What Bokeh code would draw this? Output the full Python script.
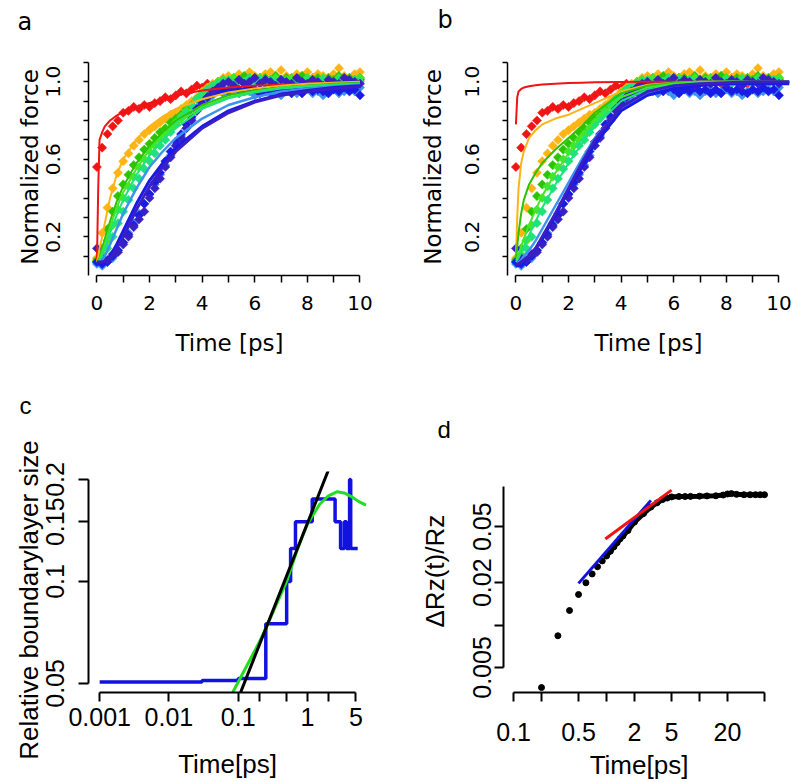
import numpy as np
from bokeh.plotting import figure
from bokeh.models import FixedTicker, Range1d, Title
from bokeh.layouts import row, column
from bokeh.embed import file_html
from bokeh.resources import INLINE

# ---------------- panels a & b: simulation points (shared) ----------------
t_pts = [0.0, 0.2, 0.4, 0.6, 0.8, 1.0, 1.2, 1.4, 1.6, 1.8,
         2.0, 2.2, 2.4, 2.6, 2.8, 3.0, 3.2, 3.4, 3.6, 3.8,
         4.0, 4.2, 4.4, 4.6, 4.8, 5.0, 5.2, 5.4, 5.6, 5.8,
         6.0, 6.2, 6.4, 6.6, 6.8, 7.0, 7.2, 7.4, 7.6, 7.8,
         8.0, 8.2, 8.4, 8.6, 8.8, 9.0, 9.2, 9.4, 9.6, 9.8,
         10.0]
red_pts = [0.56, 0.66, 0.73, 0.77, 0.80, 0.84, 0.85, 0.87, 0.86, 0.88,
           0.87, 0.89, 0.90, 0.92, 0.91, 0.93, 0.95, 0.94, 0.96, 0.98,
           0.97, 0.99, 0.98, 1.00, 0.99, 1.01, 1.00, 1.02, 0.99, 1.01,
           1.00, 1.02, 1.00, 1.01, 0.99, 1.01, 1.00, 1.02, 1.00, 0.99,
           1.01, 1.02, 1.00, 1.01, 0.99, 1.01, 1.00, 1.02, 1.01, 1.00,
           1.01]
orange_pts = [0.09, 0.22, 0.35, 0.45, 0.53, 0.59, 0.63, 0.67, 0.70, 0.73,
              0.75, 0.77, 0.79, 0.81, 0.83, 0.84, 0.86, 0.88, 0.90, 0.92,
              0.95, 0.97, 0.99, 1.00, 1.02, 1.03, 1.01, 1.04, 1.02, 1.05,
              1.03, 1.02, 1.04, 1.05, 1.03, 1.06, 1.03, 1.02, 1.04, 1.03,
              1.05, 1.02, 1.04, 1.03, 1.02, 1.04, 1.07, 1.03, 1.02, 1.04,
              1.05]
green_pts = [0.08, 0.14, 0.24, 0.33, 0.41, 0.47, 0.52, 0.57, 0.61, 0.65,
             0.68, 0.71, 0.74, 0.76, 0.79, 0.81, 0.83, 0.86, 0.88, 0.91,
             0.93, 0.96, 0.98, 0.99, 1.01, 1.00, 1.02, 1.01, 1.03, 1.01,
             1.02, 1.00, 1.02, 1.01, 1.03, 1.01, 1.02, 1.00, 1.01, 1.03,
             1.02, 1.01, 1.02, 1.00, 1.02, 1.01, 1.03, 1.01, 1.02, 1.01,
             1.02]
lime_pts = [0.07, 0.11, 0.18, 0.26, 0.34, 0.40, 0.46, 0.51, 0.56, 0.60,
            0.64, 0.67, 0.70, 0.73, 0.76, 0.79, 0.82, 0.85, 0.88, 0.91,
            0.94, 0.96, 0.98, 1.00, 1.01, 1.00, 1.02, 1.01, 1.00, 1.02,
            1.01, 1.02, 1.00, 1.01, 1.02, 1.00, 1.01, 1.02, 1.01, 1.00,
            1.02, 1.01, 1.00, 1.02, 1.01, 1.00, 1.02, 1.01, 1.00, 1.01,
            1.02]
spring_pts = [0.07, 0.09, 0.14, 0.20, 0.27, 0.33, 0.39, 0.45, 0.50, 0.55,
              0.59, 0.63, 0.67, 0.70, 0.74, 0.78, 0.81, 0.84, 0.88, 0.91,
              0.93, 0.96, 0.98, 0.99, 1.00, 1.01, 0.99, 1.01, 1.00, 1.02,
              1.00, 1.01, 0.99, 1.01, 1.00, 1.01, 1.00, 0.99, 1.01, 1.00,
              1.01, 0.99, 1.00, 1.01, 1.00, 0.99, 1.01, 1.00, 0.99, 1.01,
              1.00]
ltblue_pts = [0.06, 0.05, 0.07, 0.09, 0.13, 0.17, 0.22, 0.27, 0.32, 0.37,
              0.42, 0.47, 0.52, 0.57, 0.62, 0.67, 0.72, 0.76, 0.81, 0.85,
              0.88, 0.91, 0.93, 0.95, 0.94, 0.96, 0.95, 0.94, 0.96, 0.95,
              0.93, 0.95, 0.96, 0.94, 0.95, 0.93, 0.95, 0.96, 0.94, 0.95,
              0.96, 0.94, 0.95, 0.93, 0.95, 0.96, 0.94, 0.95, 0.96, 0.95,
              0.97]
blue_pts = [0.07, 0.06, 0.07, 0.10, 0.13, 0.17, 0.21, 0.26, 0.31, 0.37,
            0.42, 0.48, 0.53, 0.59, 0.64, 0.69, 0.73, 0.78, 0.82, 0.86,
            0.89, 0.92, 0.94, 0.95, 0.96, 0.95, 0.97, 0.96, 0.95, 0.97,
            0.96, 0.94, 0.96, 0.95, 0.97, 0.95, 0.96, 0.94, 0.96, 0.94,
            0.97, 0.95, 0.96, 0.95, 0.94, 0.96, 0.95, 0.97, 0.95, 0.96,
            0.93]
indigo_pts = [0.14, 0.09, 0.08, 0.11, 0.12, 0.16, 0.20, 0.25, 0.29, 0.33,
              0.40, 0.45, 0.50, 0.56, 0.61, 0.67, 0.71, 0.76, 0.80, 0.85,
              0.88, 0.92, 0.95, 0.97, 0.99, 1.00, 0.98, 1.01, 0.99, 1.00,
              1.02, 0.99, 1.01, 1.00, 0.98, 1.01, 1.00, 0.99, 1.02, 1.00,
              0.99, 1.01, 1.00, 0.98, 1.01, 1.00, 0.99, 1.02, 1.01, 1.00,
              0.99]

# ---------------- panel a: fitted curves ----------------
t_fit_a = [0, 0.05, 0.1, 0.2, 0.3, 0.5, 0.75, 1, 1.5, 2, 2.5, 3, 4, 5, 6, 7, 8, 9, 10]
red_fit_a = [0.07, 0.45, 0.70, 0.74, 0.77, 0.80, 0.825, 0.845, 0.87, 0.89, 0.91, 0.93, 0.955, 0.97, 0.98, 0.985, 0.99, 0.995, 1.0]
orange_fit_a = [0.07, 0.1, 0.14, 0.2, 0.27, 0.4, 0.52, 0.6, 0.7, 0.77, 0.82, 0.86, 0.91, 0.945, 0.965, 0.98, 0.99, 0.995, 1.0]
green_fit_a = [0.07, 0.08, 0.09, 0.14, 0.19, 0.28, 0.38, 0.46, 0.58, 0.67, 0.74, 0.8, 0.88, 0.93, 0.955, 0.97, 0.98, 0.99, 0.995]
lime_fit_a = [0.07, 0.075, 0.085, 0.12, 0.16, 0.25, 0.35, 0.43, 0.55, 0.65, 0.72, 0.78, 0.87, 0.92, 0.95, 0.97, 0.98, 0.985, 0.99]
spring_fit_a = [0.07, 0.07, 0.08, 0.1, 0.14, 0.22, 0.31, 0.39, 0.52, 0.62, 0.7, 0.76, 0.86, 0.915, 0.945, 0.965, 0.975, 0.985, 0.99]
ltblue_fit_a = [0.06, 0.06, 0.065, 0.08, 0.1, 0.16, 0.24, 0.32, 0.45, 0.56, 0.64, 0.71, 0.81, 0.88, 0.92, 0.95, 0.965, 0.975, 0.985]
blue_fit_a = [0.06, 0.06, 0.06, 0.06, 0.07, 0.1, 0.16, 0.23, 0.37, 0.49, 0.58, 0.66, 0.77, 0.85, 0.9, 0.935, 0.955, 0.97, 0.98]
indigo_fit_a = [0.07, 0.07, 0.07, 0.07, 0.075, 0.09, 0.14, 0.2, 0.34, 0.46, 0.56, 0.64, 0.76, 0.84, 0.895, 0.93, 0.95, 0.965, 0.975]

# ---------------- panel b: fitted curves ----------------
t_fit_b = [0, 0.05, 0.1, 0.2, 0.3, 0.5, 0.75, 1, 1.5, 2, 2.5, 3, 4, 5, 6, 7, 8, 9, 10, 10.4]
red_fit_b = [0.78, 0.92, 0.95, 0.963, 0.97, 0.977, 0.982, 0.986, 0.99, 0.993, 0.995, 0.997, 0.999, 1.0, 1.0, 1.0, 1.0, 1.0, 1.0, 1.0]
orange_fit_b = [0.09, 0.3, 0.45, 0.58, 0.64, 0.71, 0.75, 0.78, 0.81, 0.83, 0.86, 0.89, 0.95, 0.985, 0.995, 1.0, 1.0, 1.0, 1.0, 1.0]
green_fit_b = [0.09, 0.15, 0.22, 0.32, 0.39, 0.47, 0.53, 0.58, 0.65, 0.71, 0.77, 0.84, 0.94, 0.98, 0.995, 1.0, 1.0, 1.0, 1.0, 1.0]
lime_fit_b = [0.08, 0.09, 0.11, 0.15, 0.19, 0.26, 0.34, 0.41, 0.53, 0.63, 0.72, 0.8, 0.92, 0.97, 0.99, 1.0, 1.0, 1.0, 1.0, 1.0]
spring_fit_b = [0.07, 0.08, 0.09, 0.12, 0.15, 0.21, 0.28, 0.35, 0.47, 0.58, 0.68, 0.77, 0.9, 0.96, 0.985, 0.995, 1.0, 1.0, 1.0, 1.0]
ltblue_fit_b = [0.06, 0.06, 0.07, 0.08, 0.1, 0.13, 0.18, 0.24, 0.36, 0.48, 0.6, 0.71, 0.86, 0.94, 0.97, 0.985, 0.99, 0.995, 0.995, 0.995]
blue_fit_b = [0.05, 0.05, 0.05, 0.06, 0.07, 0.1, 0.14, 0.19, 0.31, 0.44, 0.56, 0.68, 0.85, 0.93, 0.965, 0.98, 0.99, 0.99, 0.99, 0.99]
indigo_fit_b = [0.06, 0.06, 0.06, 0.07, 0.08, 0.1, 0.14, 0.2, 0.32, 0.45, 0.58, 0.7, 0.87, 0.95, 0.98, 0.99, 0.995, 1.0, 1.0, 1.0]

series_colors = ["#F01414", "#FFB416", "#2BC400", "#44E62A", "#1FE27A", "#3D94F0", "#1A1AE6", "#3A20C4"]
series_pts = [red_pts, orange_pts, green_pts, lime_pts, spring_pts, ltblue_pts, blue_pts, indigo_pts]
fits_a = [red_fit_a, orange_fit_a, green_fit_a, lime_fit_a, spring_fit_a, ltblue_fit_a, blue_fit_a, indigo_fit_a]
fits_b = [red_fit_b, orange_fit_b, green_fit_b, lime_fit_b, spring_fit_b, ltblue_fit_b, blue_fit_b, indigo_fit_b]
fit_widths = [2, 2, 2, 2, 2, 2.5, 3, 3]

ab_xticks = [0, 1, 2, 3, 4, 5, 6, 7, 8, 9, 10]
ab_xlabels = ["0", "", "2", "", "4", "", "6", "", "8", "", "10"]
ab_yticks = [0.1, 0.2, 0.3, 0.4, 0.5, 0.6, 0.7, 0.8, 0.9, 1.0, 1.1]
ab_ylabels = ["", "0.2", "", "", "", "0.6", "", "", "", "1.0", ""]

# ---------------- panel c ----------------
c_step_t = [0.001, 0.03, 0.1, 0.25, 0.5, 0.57, 0.67, 1.17, 2.5, 3.0, 3.4, 3.65, 4.05, 4.2, 5.3]
c_step_y = [0.0505, 0.051, 0.0517, 0.075, 0.1, 0.125, 0.15, 0.175, 0.15, 0.125, 0.15, 0.125, 0.2, 0.125, 0.125]
c_green_t = [0.083, 0.1, 0.15, 0.2, 0.25, 0.35, 0.5, 0.7, 1.0, 1.5, 2.0, 2.7, 3.5, 4.5, 5.5, 7.0]
c_green_y = [0.047, 0.0505, 0.059, 0.066, 0.0727, 0.085, 0.1, 0.123, 0.148, 0.169, 0.179, 0.184, 0.182, 0.177, 0.172, 0.168]
c_fit_t = [0.108, 2.0]
c_fit_y = [0.047, 0.213]
c_xticks = [0.001, 0.01, 0.1, 0.2, 0.5, 1, 2, 5]
c_xlabels = ["0.001", "0.01", "0.1", "", "", "1", "", "5"]
c_yticks = [0.05, 0.1, 0.15, 0.2]
c_ylabels = ["0.05", "0.1", "0.15", "0.2"]

# ---------------- panel d ----------------
d_dot_t = [0.2, 0.3, 0.4, 0.5, 0.6, 0.7, 0.8, 0.9]
d_dot_y = [0.0036, 0.0084, 0.0127, 0.0165, 0.020, 0.0231, 0.026, 0.0286]
d_dense_t = [1.0, 1.1, 1.2, 1.3, 1.4, 1.5, 1.7, 2.0, 2.5, 3.0, 3.5, 4.0, 4.5, 5.0, 6.0, 7.0, 8.0,
             10.0, 12.0, 15.0, 18.0, 20.0, 22.0, 25.0, 30.0, 35.0, 40.0, 45.0, 50.0]
d_dense_y = [0.031, 0.0335, 0.036, 0.0385, 0.041, 0.043, 0.047, 0.054, 0.062, 0.069, 0.074, 0.078, 0.080, 0.0815, 0.082, 0.082, 0.0822,
             0.0825, 0.0828, 0.083, 0.084, 0.0855, 0.086, 0.085, 0.0845, 0.0845, 0.0845, 0.0845, 0.0845]
d_blue_t = [0.5, 3.0]
d_blue_y = [0.0198, 0.077]
d_red_t = [0.97, 5.0]
d_red_y = [0.0409, 0.091]
d_xticks = [0.1, 0.2, 0.5, 1, 2, 5, 10, 20, 50]
d_xlabels = ["0.1", "", "0.5", "", "2", "5", "", "20", ""]
d_yticks = [0.005, 0.01, 0.02, 0.05]
d_ylabels = ["0.005", "", "0.02", "0.05"]

DV = "DejaVu Sans"
LS = "Liberation Sans"
NB = "\u00a0"


def make_fig(width, height, xr, yr, mbl, mbr, mbt, mbb, xtype="linear", ytype="linear"):
    p = figure(width=width, height=height, x_range=Range1d(*xr), y_range=Range1d(*yr),
               x_axis_type=xtype, y_axis_type=ytype, output_backend="svg",
               toolbar_location=None, min_border_left=mbl, min_border_right=mbr,
               min_border_top=mbt, min_border_bottom=mbb)
    p.outline_line_color = None
    p.grid.visible = False
    p.background_fill_color = "white"
    p.border_fill_color = "white"
    return p


def style_axes(p, xticks, xlabels, yticks, ylabels, xb, yb, font, tsize, xtick, ytick,
               xstand, ystand, lw, xtitle, ytitle, title_size, xts, yts):
    xa = p.xaxis[0]
    ya = p.yaxis[0]
    xa.ticker = FixedTicker(ticks=xticks, minor_ticks=[])
    ya.ticker = FixedTicker(ticks=yticks, minor_ticks=[])
    xa.major_label_overrides = dict(zip(xticks, xlabels))
    ya.major_label_overrides = dict(zip(yticks, ylabels))
    xa.bounds = xb
    ya.bounds = yb
    xa.axis_label = xtitle
    ya.axis_label = ytitle
    xa.axis_label_standoff = xts
    ya.axis_label_standoff = yts
    for ax, tk, st in ((xa, xtick, xstand), (ya, ytick, ystand)):
        ax.axis_line_color = "black"
        ax.axis_line_width = lw
        ax.major_tick_line_color = "black"
        ax.major_tick_line_width = lw
        ax.major_tick_out = tk
        ax.major_tick_in = 0
        ax.minor_tick_line_color = None
        ax.major_label_text_font = font
        ax.major_label_text_font_size = tsize
        ax.major_label_text_color = "black"
        ax.major_label_standoff = st
        ax.axis_label_text_font = font
        ax.axis_label_text_font_size = title_size
        ax.axis_label_text_font_style = "normal"
        ax.axis_label_text_color = "black"
    ya.major_label_orientation = "vertical"


def add_letter(p, text, font, offset, standoff, blank_lines):
    p.add_layout(Title(text=text + ("\n" + NB) * blank_lines, align="left", offset=offset,
                       standoff=standoff, vertical_align="bottom", text_font=font,
                       text_font_size="24px", text_line_height=1.0,
                       text_font_style="normal", text_color="black"), "above")


TOP_H = 380
BOT_H = 402
BOT_FRAME_TOP = 471      # shared frame top of panels c and d (page px)
BOT_FRAME_BOTTOM = 692   # shared frame bottom of panels c and d (page px)


def force_panel(fits, t_fit, width, mbl, mbr, letter, offset, standoff, yts):
    p = make_fig(width, TOP_H, (-0.32, 10.4), (0.0, 1.12), mbl, mbr, 58, TOP_H - 58 - 217)
    for col, ys in zip(series_colors, series_pts):
        p.scatter(t_pts, ys, marker="square", angle=np.pi / 4, size=6.5,
                  fill_color=col, line_color=col, line_width=0.5)
    for col, ys, w in zip(series_colors, fits, fit_widths):
        p.line(t_fit, ys, line_color=col, line_width=w)
    style_axes(p, ab_xticks, ab_xlabels, ab_yticks, ab_ylabels, (0, 10), (0.0, 1.1),
               DV, "20px", 7, 5, 13, 24, 1.5, "Time [ps]", "Normalized force", "23px", 17, yts)
    add_letter(p, letter, DV, offset, standoff, 1)
    return p


pa = force_panel(fits_a, t_fit_a, 400, 88, 30, "a", -71, -10, 0)
pb = force_panel(fits_b, t_fit_b, 396, 107, 7, "b", -70, -6, 16)

MBT = BOT_FRAME_TOP - TOP_H
MBB = TOP_H + BOT_H - BOT_FRAME_BOTTOM

# panel c
pc = make_fig(400, BOT_H, (0.00069, 7.1), (0.0470, 0.2111), 88, 34, MBT, MBB, "log", "log")
pc.step(c_step_t, c_step_y, mode="after", line_color="#1212E0", line_width=3.5)
pc.line(c_green_t, c_green_y, line_color="#22DD22", line_width=3)
pc.line(c_fit_t, c_fit_y, line_color="black", line_width=3)
style_axes(pc, c_xticks, c_xlabels, c_yticks, c_ylabels, (0.001, 5), (0.05, 0.2),
           LS, "25px", 9, 10, 6, 14, 2, "Time[ps]", "Relative boundarylayer size" + NB * 5,
           "26px", 20, 0)
add_letter(pc, "c", LS, -69, -2, 2)

# panel d
pd_ = make_fig(396, BOT_H, (0.078, 64), (0.00332, 0.1235), 103, 22, MBT, MBB, "log", "log")
pd_.scatter(d_dot_t, d_dot_y, marker="circle", size=6, fill_color="black", line_color="black")
pd_.scatter(d_dense_t, d_dense_y, marker="circle", size=6, fill_color="black", line_color="black")
pd_.line(d_dense_t, d_dense_y, line_color="black", line_width=5)
pd_.line(d_blue_t, d_blue_y, line_color="#1212E0", line_width=3)
pd_.line(d_red_t, d_red_y, line_color="#EE1414", line_width=3)
style_axes(pd_, d_xticks, d_xlabels, d_yticks, d_ylabels, (0.1, 50), (0.005, 0.0966),
           LS, "25px", 9, 9, 21, 3, 2, "Time[ps]", NB * 3 + "\u0394Rz(t)/Rz",
           "26px", 6, 21)
add_letter(pd_, "d", LS, -66, 4, 1)

layout = column(row(pa, pb), row(pc, pd_))
open("out.html", "w").write(file_html(layout, INLINE))
